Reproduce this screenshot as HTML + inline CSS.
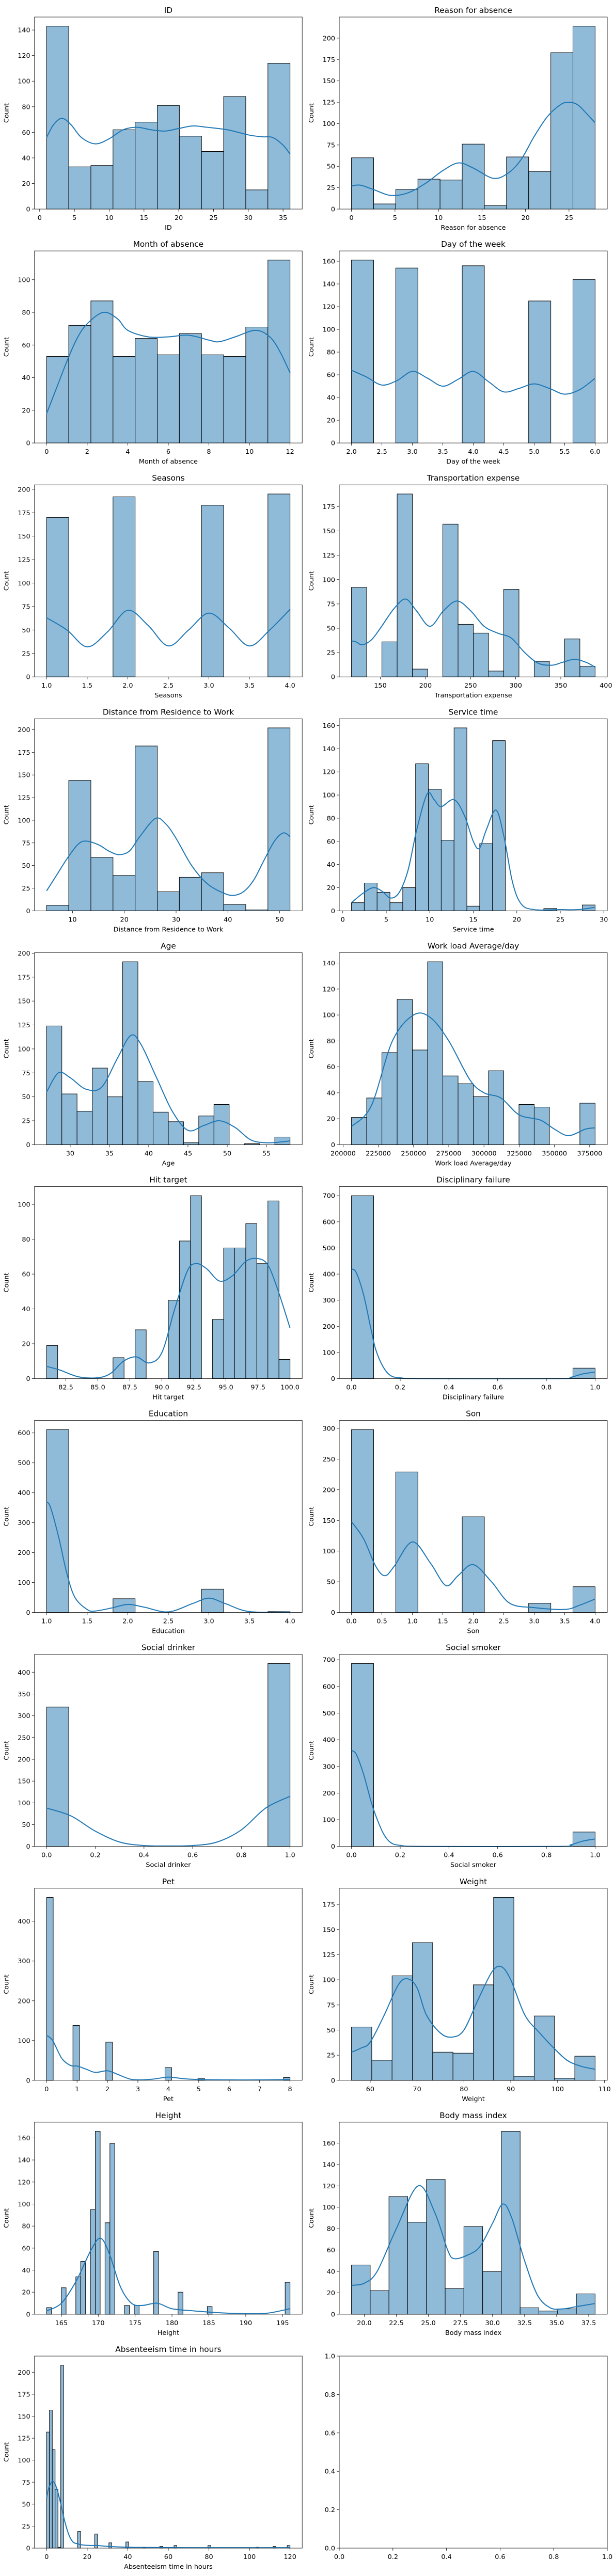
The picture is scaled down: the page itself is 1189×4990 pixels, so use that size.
<!DOCTYPE html>
<html><head><meta charset="utf-8">
<style>
html,body{margin:0;padding:0;background:#fff;}
svg{display:block;font-family:"DejaVu Sans","Liberation Sans",sans-serif;}
</style></head>
<body>
<svg id="fig" width="1189" height="4990" viewBox="0 0 1189 4990" xmlns="http://www.w3.org/2000/svg"></svg>
<script>
// ---- data: each chart = range (bin edges lo/hi), bin counts, KDE points, tick labels ----
const c01_range=[1,36]; const c01_counts=[143,33,34,62,68,81,57,45,88,15,114];
const c01_kdeX=[1,2,3.2,4.5,6,8,10,12,14,16,18,20,22,24,27,30,32,33.5,35,36];
const c01_kdeY=[56,66,71,66,56,51,55,62,64,62,61,63,65,64,62,58,56.5,56,50,43];
const c01_xticks=["0","5","10","15","20","25","30","35"]; const c01_yticks=[0,20,40,60,80,100,120,140];

const c02_range=[0,28]; const c02_counts=[60,6,23,35,34,76,4,61,44,183,214];
const c02_kdeX=[0,1,2.5,4.5,6.5,8.5,10.5,12.3,14,16.3,18,19.5,21,22.5,24,25,26,27,28];
const c02_kdeY=[27,28,23,16,19,30,45,54,48,36,42,58,85,108,122,125,122,112,101];
const c02_xticks=["0","5","10","15","20","25"]; const c02_yticks=[0,25,50,75,100,125,150,175,200];

const c03_range=[0,12]; const c03_counts=[53,72,87,53,64,54,67,54,53,71,112];
const c03_kdeX=[0,0.5,1,1.5,2,2.8,3.5,4,5,6,7,8,8.5,9.3,10.3,11,11.5,12];
const c03_kdeY=[18,34,50,64,73,80,76,69,65,65,66,63,62,65,69,65,56,43];
const c03_xticks=["0","2","4","6","8","10","12"]; const c03_yticks=[0,20,40,60,80,100];

const c04_range=[2,6]; const c04_counts=[161,0,154,0,0,156,0,0,125,0,144];
const c04_kdeX=[2,2.25,2.5,2.75,3,3.25,3.5,3.75,4,4.25,4.5,4.75,5,5.25,5.5,5.75,6];
const c04_kdeY=[64,58,51,55,63,57,50,56,63,54,45,48,52,48,43,47,57];
const c04_xticks=["2.0","2.5","3.0","3.5","4.0","4.5","5.0","5.5","6.0"]; const c04_yticks=[0,20,40,60,80,100,120,140,160];

const c05_range=[1,4]; const c05_counts=[170,0,0,192,0,0,0,183,0,0,195];
const c05_kdeX=[1,1.25,1.5,1.75,2,2.25,2.5,2.75,3,3.25,3.5,3.75,4];
const c05_kdeY=[63,50,32,48,71,55,33,50,68,52,33,50,72];
const c05_xticks=["1.0","1.5","2.0","2.5","3.0","3.5","4.0"]; const c05_yticks=[0,25,50,75,100,125,150,175,200];

const c06_range=[118,388]; const c06_counts=[92,0,36,188,8,0,157,54,45,6,90,0,16,0,39,11];
const c06_kdeX=[118,123,130,140,150,165,178,190,205,220,235,250,265,280,295,310,325,340,352,365,378,388];
const c06_kdeY=[37,36,33,38,50,70,80,68,52,68,78,68,52,45,40,25,14,12,15,18,15,10];
const c06_xticks=["150","200","250","300","350","400"]; const c06_yticks=[0,25,50,75,100,125,150,175];

const c07_range=[5,52]; const c07_counts=[6,144,59,39,182,21,37,42,7,1,202];
const c07_kdeX=[5,7,9,11,12.5,15,17,19,21,23,26,28,30,33,36,39,41,43,45,47,49,50.7,52];
const c07_kdeY=[22,40,58,73,77,73,66,62,66,82,102,96,80,50,30,20,17,21,34,56,77,86,82];
const c07_xticks=["10","20","30","40","50"]; const c07_yticks=[0,25,50,75,100,125,150,175,200];

const c08_range=[1,29]; const c08_counts=[7,24,16,7,20,127,105,61,158,4,58,147,0,0,0,2,0,0,5];
const c08_kdeX=[1,2.3,3.5,4.5,5.5,6.5,7.5,8.5,9.7,10.5,11.3,12.8,14,15,15.7,16.5,17.6,18.5,19.5,20.5,22,25,27,29];
const c08_kdeY=[7,15,20,17,11,16,35,70,101,96,90,96,82,60,54,70,87,65,25,6,1,1,1,3];
const c08_xticks=["0","5","10","15","20","25","30"]; const c08_yticks=[0,20,40,60,80,100,120,140,160];

const c09_range=[27,58]; const c09_counts=[124,53,35,80,50,191,66,34,24,2,30,42,0,1,0,8];
const c09_kdeX=[27,28.5,30,32,34,36,37.7,39,41,43,45,47,49,51,53,55,57,58];
const c09_kdeY=[55,75,70,58,60,90,114,105,70,35,15,20,25,18,5,2,3,4];
const c09_xticks=["30","35","40","45","50","55"]; const c09_yticks=[0,25,50,75,100,125,150,175,200];

const c10_range=[205917,378884]; const c10_counts=[21,36,71,112,73,141,53,47,37,57,0,31,29,0,0,32];
const c10_kdeX=[205917,220000,235000,250000,262000,275000,290000,300000,312000,325000,340000,350000,360000,372000,378884];
const c10_kdeY=[14,30,80,100,98,80,50,40,36,23,19,12,7,12,13];
const c10_xticks=["200000","225000","250000","275000","300000","325000","350000","375000"]; const c10_yticks=[0,20,40,60,80,100,120,140];

const c11_range=[81,100]; const c11_counts=[19,0,0,0,0,0,12,0,28,0,0,45,79,105,0,34,75,75,89,66,102,11];
const c11_kdeX=[81,82,83.5,85,86,87,88,89,90,91,92,92.7,93.5,94.5,95.5,96.5,97.3,98.2,99,100];
const c11_kdeY=[7,5,1,0.5,3,10,12.5,9,15,40,62,66,63,56,59,67,69,66,52,29];
const c11_xticks=["82.5","85.0","87.5","90.0","92.5","95.0","97.5","100.0"]; const c11_yticks=[0,20,40,60,80,100];

const c12_range=[0,1]; const c12_counts=[700,0,0,0,0,0,0,0,0,0,40];
const c12_kdeX=[0,0.02,0.05,0.08,0.1,0.13,0.16,0.2,0.3,0.85,0.9,0.95,1];
const c12_kdeY=[420,405,320,190,110,45,12,3,0,0,5,18,25];
const c12_xticks=["0.0","0.2","0.4","0.6","0.8","1.0"]; const c12_yticks=[0,100,200,300,400,500,600,700];

const c13_range=[1,4]; const c13_counts=[611,0,0,46,0,0,0,78,0,0,3];
const c13_kdeX=[1,1.05,1.15,1.25,1.35,1.5,1.6,1.8,2,2.2,2.5,2.8,3,3.2,3.5,4];
const c13_kdeY=[370,350,250,130,50,10,5,15,27,18,2,30,48,30,3,2];
const c13_xticks=["1.0","1.5","2.0","2.5","3.0","3.5","4.0"]; const c13_yticks=[0,100,200,300,400,500,600];

const c14_range=[0,4]; const c14_counts=[298,0,229,0,0,156,0,0,15,0,42];
const c14_kdeX=[0,0.2,0.4,0.55,0.7,1,1.3,1.55,1.75,2,2.3,2.6,3,3.5,3.75,4];
const c14_kdeY=[148,120,75,60,75,115,80,44,60,78,50,15,8,5,12,22];
const c14_xticks=["0.0","0.5","1.0","1.5","2.0","2.5","3.0","3.5","4.0"]; const c14_yticks=[0,50,100,150,200,250,300];

const c15_range=[0,1]; const c15_counts=[320,0,0,0,0,0,0,0,0,0,420];
const c15_kdeX=[0,0.1,0.2,0.3,0.4,0.5,0.6,0.7,0.8,0.9,1];
const c15_kdeY=[88,70,35,10,2,1,2,10,38,88,115];
const c15_xticks=["0.0","0.2","0.4","0.6","0.8","1.0"]; const c15_yticks=[0,50,100,150,200,250,300,350,400];

const c16_range=[0,1]; const c16_counts=[686,0,0,0,0,0,0,0,0,0,54];
const c16_kdeX=[0,0.02,0.05,0.08,0.1,0.13,0.16,0.2,0.3,0.85,0.9,0.95,1];
const c16_kdeY=[360,345,270,170,115,50,15,4,0,0,6,20,28];
const c16_xticks=["0.0","0.2","0.4","0.6","0.8","1.0"]; const c16_yticks=[0,100,200,300,400,500,600,700];

const c17_range=[0,8]; const c17_nbins=37;
const c17_binIndex=[0,4,9,18,23,36]; const c17_counts=[460,138,96,32,5,7];
const c17_kdeX=[0,0.2,0.5,0.8,1,1.3,1.6,2,2.3,2.7,3,3.5,4,4.5,5,6,7,8];
const c17_kdeY=[113,100,55,37,36,28,20,24,16,4,1,3,8,4,2,1,1,2];
const c17_xticks=["0","1","2","3","4","5","6","7","8"]; const c17_yticks=[0,100,200,300,400];

const c18_range=[56,108]; const c18_counts=[53,20,104,137,28,27,95,182,4,64,2,24];
const c18_kdeX=[56,58,60,63,66,68,70,72,75,77.5,80,83,86,88,90,93,96,99,102,105,108];
const c18_kdeY=[28,32,38,65,95,101,92,65,47,43,50,80,108,113,100,65,48,33,20,14,11];
const c18_xticks=["60","70","80","90","100","110"]; const c18_yticks=[0,25,50,75,100,125,150,175];

const c19_range=[163,196]; const c19_nbins=50;
const c19_binIndex=[0,3,6,7,9,10,12,13,16,18,22,27,33,49]; const c19_counts=[6,24,34,48,95,166,83,155,8,8,57,20,7,29];
const c19_kdeX=[163,165,167,169,170.3,171.5,173,174.5,176,178,180,183,186,190,193,196];
const c19_kdeY=[3,10,30,58,69,55,25,10,8,10,5,3,1.5,0.5,1,5];
const c19_xticks=["165","170","175","180","185","190","195"]; const c19_yticks=[0,20,40,60,80,100,120,140,160];

const c20_range=[19,38]; const c20_counts=[46,22,110,86,126,24,82,40,171,6,3,5,19];
const c20_kdeX=[19,20,21,22.5,24.2,25.5,26.5,27,28,29,30,30.8,31.5,32.5,33.5,34.5,35.5,36.5,38];
const c20_kdeY=[27,29,40,80,120,95,60,52,55,63,85,103,90,50,18,6,5,7,10];
const c20_xticks=["20.0","22.5","25.0","27.5","30.0","32.5","35.0","37.5"]; const c20_yticks=[0,20,40,60,80,100,120,140,160];

const c21_range=[0,120]; const c21_nbins=86;
const c21_binIndex=[0,1,2,3,4,5,11,17,22,28,34,40,45,57,74,80,85]; const c21_counts=[132,157,112,67,1,208,19,16,6,7,1,2,3,3,1,2,3];
const c21_kdeX=[0,1,3,5,7,9,11,13,15,18,22,25,30,40,50,70,100,120];
const c21_kdeY=[57,68,76,68,50,30,15,7,5,3.5,3,3,2,1,0.7,0.5,0.5,0.5];
const c21_xticks=["0","20","40","60","80","100","120"]; const c21_yticks=[0,25,50,75,100,125,150,175,200];

const titles=["ID","Reason for absence","Month of absence","Day of the week","Seasons","Transportation expense","Distance from Residence to Work","Service time","Age","Work load Average/day","Hit target","Disciplinary failure","Education","Son","Social drinker","Social smoker","Pet","Weight","Height","Body mass index","Absenteeism time in hours"];

const charts=[
 [c01_range,c01_counts,null,null,c01_kdeX,c01_kdeY,c01_xticks,c01_yticks],
 [c02_range,c02_counts,null,null,c02_kdeX,c02_kdeY,c02_xticks,c02_yticks],
 [c03_range,c03_counts,null,null,c03_kdeX,c03_kdeY,c03_xticks,c03_yticks],
 [c04_range,c04_counts,null,null,c04_kdeX,c04_kdeY,c04_xticks,c04_yticks],
 [c05_range,c05_counts,null,null,c05_kdeX,c05_kdeY,c05_xticks,c05_yticks],
 [c06_range,c06_counts,null,null,c06_kdeX,c06_kdeY,c06_xticks,c06_yticks],
 [c07_range,c07_counts,null,null,c07_kdeX,c07_kdeY,c07_xticks,c07_yticks],
 [c08_range,c08_counts,null,null,c08_kdeX,c08_kdeY,c08_xticks,c08_yticks],
 [c09_range,c09_counts,null,null,c09_kdeX,c09_kdeY,c09_xticks,c09_yticks],
 [c10_range,c10_counts,null,null,c10_kdeX,c10_kdeY,c10_xticks,c10_yticks],
 [c11_range,c11_counts,null,null,c11_kdeX,c11_kdeY,c11_xticks,c11_yticks],
 [c12_range,c12_counts,null,null,c12_kdeX,c12_kdeY,c12_xticks,c12_yticks],
 [c13_range,c13_counts,null,null,c13_kdeX,c13_kdeY,c13_xticks,c13_yticks],
 [c14_range,c14_counts,null,null,c14_kdeX,c14_kdeY,c14_xticks,c14_yticks],
 [c15_range,c15_counts,null,null,c15_kdeX,c15_kdeY,c15_xticks,c15_yticks],
 [c16_range,c16_counts,null,null,c16_kdeX,c16_kdeY,c16_xticks,c16_yticks],
 [c17_range,c17_counts,c17_binIndex,c17_nbins,c17_kdeX,c17_kdeY,c17_xticks,c17_yticks],
 [c18_range,c18_counts,null,null,c18_kdeX,c18_kdeY,c18_xticks,c18_yticks],
 [c19_range,c19_counts,c19_binIndex,c19_nbins,c19_kdeX,c19_kdeY,c19_xticks,c19_yticks],
 [c20_range,c20_counts,null,null,c20_kdeX,c20_kdeY,c20_xticks,c20_yticks],
 [c21_range,c21_counts,c21_binIndex,c21_nbins,c21_kdeX,c21_kdeY,c21_xticks,c21_yticks]
];
const emptyTicks=["0.0","0.2","0.4","0.6","0.8","1.0"];

const NS="http://www.w3.org/2000/svg";
const fig=document.getElementById('fig');
function mk(tag,attrs,parent){const e=document.createElementNS(NS,tag);for(const k in attrs)e.setAttribute(k,attrs[k]);(parent||fig).appendChild(e);return e;}
function slug(s){return s.toLowerCase().replace(/[^a-z0-9]+/g,'-').replace(/(^-|-$)/g,'');}

const COLX=[66.7,657], AW=[518.5,519], TOP0=33, PITCH=453.1, AH=372;
const TICK=12.8;

function smooth(pts){
  let d='M'+pts[0][0].toFixed(2)+','+pts[0][1].toFixed(2);
  for(let i=0;i<pts.length-1;i++){
    const p0=pts[i-1]||pts[i],p1=pts[i],p2=pts[i+1],p3=pts[i+2]||p2;
    const c1=[p1[0]+(p2[0]-p0[0])/6,p1[1]+(p2[1]-p0[1])/6];
    const c2=[p2[0]-(p3[0]-p1[0])/6,p2[1]-(p3[1]-p1[1])/6];
    d+=' C'+c1[0].toFixed(2)+','+c1[1].toFixed(2)+' '+c2[0].toFixed(2)+','+c2[1].toFixed(2)+' '+p2[0].toFixed(2)+','+p2[1].toFixed(2);
  }
  return d;
}

function drawAxesFrame(g,x0,y0,w,h,title,xlab,ylab){
  const t=mk('text',{x:x0+w/2,y:y0-8,'text-anchor':'middle','font-size':15.3,fill:'#000'},g);
  t.textContent=title;
  
  
  if(xlab!==null){
    const xl=mk('text',{x:x0+w/2,y:y0+h+40,'text-anchor':'middle','font-size':TICK,fill:'#000'},g);
    xl.textContent=xlab;
    
    
  }
  if(ylab!==null){
    const cx=x0-50,cy=y0+h/2;
    const yl=mk('text',{x:cx,y:cy,'text-anchor':'middle','font-size':TICK,fill:'#000',transform:'rotate(-90 '+cx+' '+cy+')'},g);
    yl.textContent=ylab;
    
    
  }
}
function drawTicks(g,x0,y0,w,h,xt,xs,yt,ys,fmtY){
  xt.forEach(lbl=>{
    const px=xs(parseFloat(lbl));
    if(px<x0-0.5||px>x0+w+0.5)return;
    mk('line',{x1:px,y1:y0+h,x2:px,y2:y0+h+4.9,stroke:'#000','stroke-width':0.8},g);
    const tx=mk('text',{x:px,y:y0+h+21,'text-anchor':'middle','font-size':TICK,fill:'#000'},g);
    tx.textContent=lbl;
    
    
  });
  yt.forEach(v=>{
    const py=ys(typeof v==='string'?parseFloat(v):v);
    mk('line',{x1:x0-4.9,y1:py,x2:x0,y2:py,stroke:'#000','stroke-width':0.8},g);
    const ty=mk('text',{x:x0-8,y:py+4.5,'text-anchor':'end','font-size':TICK,fill:'#000'},g);
    ty.textContent=fmtY?fmtY(v):String(v);
    
    
  });
  mk('rect',{x:x0,y:y0,width:w,height:h,fill:'none',stroke:'#000','stroke-width':0.8},g);
}

charts.forEach((c,i)=>{
  const [range,counts,binIndex,nbins,kx,ky,xt,yt]=c;
  const row=Math.floor(i/2),col=i%2;
  const x0=COLX[col],w=AW[col],y0=TOP0+row*PITCH,h=AH;
  const g=mk('g',{});
  
  
  const n=nbins||counts.length;
  const bw=(range[1]-range[0])/n;
  const span=range[1]-range[0];
  const xmin=range[0]-0.05*span,xmax=range[1]+0.05*span;
  const ymax=1.05*Math.max(Math.max(...counts),Math.max(...ky));
  const xs=v=>x0+(v-xmin)/(xmax-xmin)*w;
  const ys=v=>y0+h-v/ymax*h;
  counts.forEach((v,j)=>{
    if(v<=0)return;
    const k=binIndex?binIndex[j]:j;
    const a=xs(range[0]+k*bw),b=xs(range[0]+(k+1)*bw);
    const r=mk('rect',{x:a,y:ys(v),width:b-a,height:ys(0)-ys(v),fill:'#8fbbd9',stroke:'#000','stroke-width':1},g);
    
    
  });
  const pts=kx.map((x,j)=>[xs(x),ys(ky[j])]);
  const p=mk('path',{d:smooth(pts),fill:'none',stroke:'#1f77b4','stroke-width':2},g);
  
  
  drawAxesFrame(g,x0,y0,w,h,titles[i],titles[i],'Count');
  drawTicks(g,x0,y0,w,h,xt,xs,yt,ys,null);
});

// empty 22nd axes
(function(){
  const x0=COLX[1],w=AW[1],y0=TOP0+10*PITCH,h=AH;
  const g=mk('g',{});
  
  
  const xs=v=>x0+v*w, ys=v=>y0+h-v*h;
  drawTicks(g,x0,y0,w,h,emptyTicks,xs,emptyTicks,ys,v=>v);
})();
</script>
</body></html>
